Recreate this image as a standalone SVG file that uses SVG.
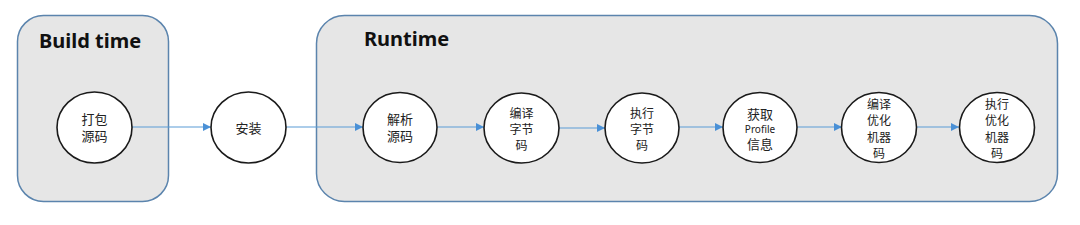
<svg xmlns="http://www.w3.org/2000/svg" width="1080" height="225" viewBox="0 0 1080 225">
<style>
.box{fill:#e6e6e6;stroke:#5b84ad;stroke-width:1.5}
.title{font-family:"Noto Sans","Open Sans",sans-serif;font-weight:bold;font-size:20px;fill:#111}
.node{fill:#fff;stroke:#1a1a1a;stroke-width:1.6}
.t{font-family:"Noto Sans CJK SC","Noto Sans",sans-serif;font-size:13px;fill:#222;text-anchor:middle;dominant-baseline:central}
.m{font-size:12px}
.s{font-family:"Noto Sans","Noto Sans CJK SC",sans-serif;font-size:10px;fill:#222;text-anchor:middle;dominant-baseline:central}
.c{stroke:#5b9bd5;stroke-width:1.2;fill:none;marker-end:url(#ah)}
</style>
<defs>
<marker id="ah" viewBox="0 0 10 10" refX="10" refY="5" markerWidth="8" markerHeight="8" markerUnits="userSpaceOnUse" orient="auto">
<path d="M0,0 L10,5 L0,10 z" fill="#4a90d6"/>
</marker>
</defs>
<g id="build-time">
<rect class="box" x="17.5" y="15.5" width="151" height="186" rx="26"/>
<text class="title" x="39" y="48">Build time</text>
</g>
<g id="runtime">
<rect class="box" x="316.5" y="15.5" width="741" height="186" rx="28"/>
<text class="title" x="364" y="46">Runtime</text>
</g>
<g id="connectors">
<line class="c" x1="132" y1="127" x2="211" y2="127"/>
<line class="c" x1="286" y1="127" x2="363" y2="127"/>
<line class="c" x1="437" y1="127" x2="484" y2="127"/>
<line class="c" x1="559" y1="128" x2="605" y2="128"/>
<line class="c" x1="679" y1="127" x2="723" y2="127"/>
<line class="c" x1="797" y1="127" x2="842" y2="127"/>
<line class="c" x1="917" y1="127" x2="959" y2="127"/>
</g>
<g id="n1">
<ellipse class="node" cx="94.5" cy="127.5" rx="37.5" ry="35.5"/>
<text class="t" x="94.5" y="118.5">打包</text>
<text class="t" x="94.5" y="135.5">源码</text>
</g>
<g id="n2">
<ellipse class="node" cx="248.5" cy="127.5" rx="37.5" ry="35.5"/>
<text class="t" x="248.5" y="127.5">安装</text>
</g>
<g id="n3">
<ellipse class="node" cx="400" cy="127.5" rx="37" ry="35"/>
<text class="t" x="400" y="118.5">解析</text>
<text class="t" x="400" y="135.5">源码</text>
</g>
<g id="n4">
<ellipse class="node" cx="521.5" cy="128" rx="37.5" ry="35"/>
<text class="t m" x="521.5" y="112">编译</text>
<text class="t m" x="521.5" y="128">字节</text>
<text class="t m" x="521.5" y="144">码</text>
</g>
<g id="n5">
<ellipse class="node" cx="642" cy="128" rx="37" ry="35"/>
<text class="t m" x="642" y="112">执行</text>
<text class="t m" x="642" y="128">字节</text>
<text class="t m" x="642" y="144">码</text>
</g>
<g id="n6">
<ellipse class="node" cx="760" cy="127.5" rx="37" ry="35"/>
<text class="t" x="760" y="113">获取</text>
<text class="s" x="760" y="128.5">Profile</text>
<text class="t" x="760" y="143">信息</text>
</g>
<g id="n7">
<ellipse class="node" cx="879" cy="127.5" rx="37.5" ry="35"/>
<text class="t m" x="879" y="103">编译</text>
<text class="t m" x="879" y="119.5">优化</text>
<text class="t m" x="879" y="136">机器</text>
<text class="t m" x="879" y="152">码</text>
</g>
<g id="n8">
<ellipse class="node" cx="997" cy="127.5" rx="37.5" ry="35"/>
<text class="t m" x="997" y="103">执行</text>
<text class="t m" x="997" y="119.5">优化</text>
<text class="t m" x="997" y="136">机器</text>
<text class="t m" x="997" y="152">码</text>
</g>
</svg>
